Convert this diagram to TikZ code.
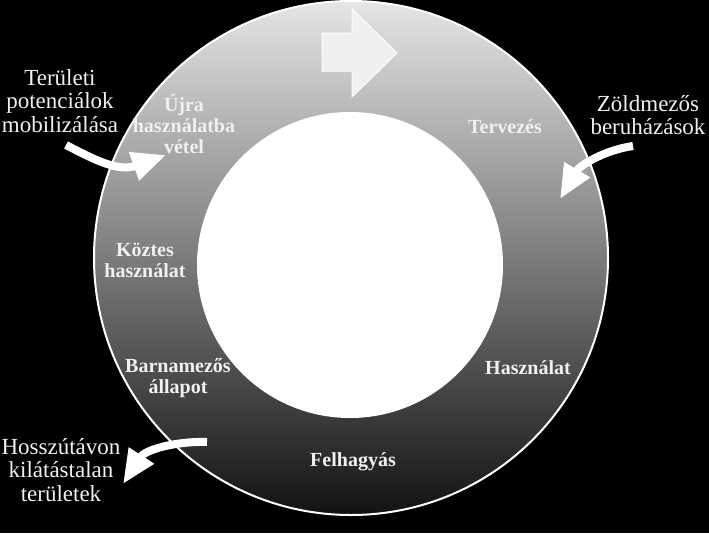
\documentclass[tikz,border=0pt]{standalone}
\usepackage{fontspec}
\setmainfont{Liberation Serif}
\usetikzlibrary{arrows.meta}
\tikzset{
  gyuru/.style={font=\bfseries\fontsize{20}{21}\selectfont,text=white!94!black,align=center},
  kulso/.style={font=\fontsize{23}{23.5}\selectfont,text=white!94!black,align=center},
  nyil/.style={white,line width=8pt,-{Triangle[width=28pt,length=34pt]}}
}
\begin{document}
\begin{tikzpicture}[x=1pt,y=-1pt]
                \useasboundingbox (0,0) rectangle (709,533);
                \fill[black] (0,0) rectangle (709,533); % hatter
                \shade[top color=white!90!black,middle color=white!52!black,bottom color=black!93] (351,258) circle [radius=257]; % gyuru
                \draw[white,line width=2pt] (351,258) circle [radius=257];
                \fill[white] (350,265) circle [radius=153]; % belso kor
                \draw[white,line width=1pt,fill=white!94!black] (322,33) -- (352,33) -- (352,9) -- (397,53) -- (352,97) -- (352,71) -- (322,71) -- cycle; % iranyito nyil
                \node[gyuru] (terv) at (505,127) {Tervezés};
                \node[gyuru] (hasz) at (528,368) {Használat};
                \node[gyuru] (felh) at (353,462) {Felhagyás};
                \node[gyuru] (barna) at (178,378) {Barnamezős\\állapot};
                \node[gyuru] (koztes) at (145,260) {Köztes\\használat};
                \node[gyuru] (ujra) at (184,124) {Újra\\használatba\\vétel};
                \node[kulso] (terul) at (60,101) {Területi\\potenciálok\\mobilizálása};
                \node[kulso] (zold) at (648,115) {Zöldmezős\\beruházások};
                \node[kulso] (hossz) at (61,470) {Hosszútávon\\kilátástalan\\területek};
                \coordinate (a1) at (66,145);
                \coordinate (b1) at (166,155);
                \coordinate (a2) at (633,146);
                \coordinate (b2) at (560,199);
                \coordinate (a3) at (207,442);
                \coordinate (b3) at (123,484);
                \draw[nyil] (a1) .. controls (95,160) and (118,172) .. (b1); % potencialok
                \draw[nyil] (a2) .. controls (605,150) and (580,165) .. (b2); % zoldmezos
                \draw[nyil] (a3) .. controls (175,441) and (145,450) .. (b3); % kilatastalan
\end{tikzpicture}
\end{document}
